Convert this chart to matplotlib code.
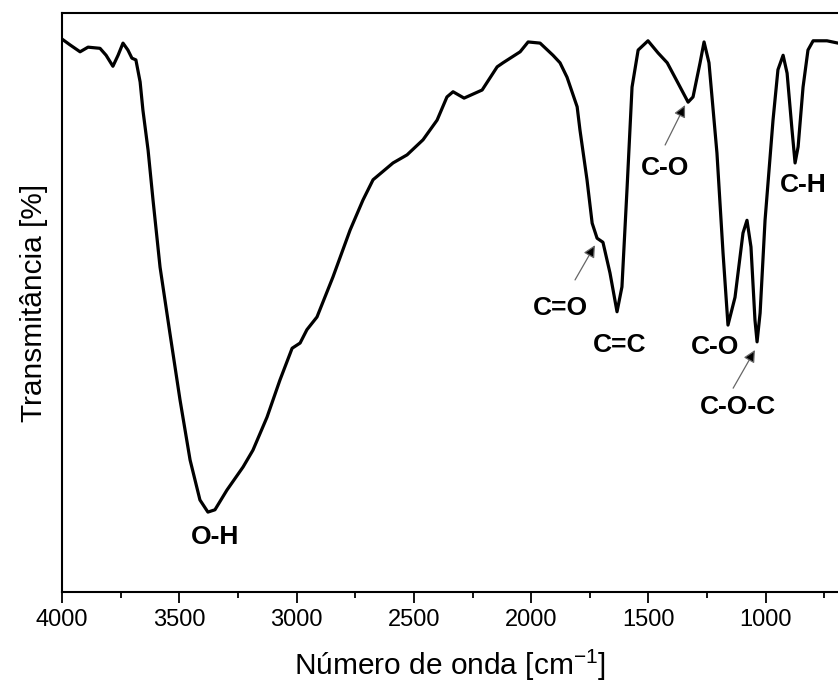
import numpy as np
import matplotlib
matplotlib.use('Agg')
import matplotlib.pyplot as plt

plt.rcParams['font.family'] = ['Liberation Sans', 'DejaVu Sans']
plt.rcParams['mathtext.fontset'] = 'custom'
plt.rcParams['mathtext.rm'] = 'Liberation Sans'

# FTIR spectrum (wavenumber in cm-1, transmittance in arbitrary %)
wavenumber = [4000, 3966, 3923, 3889, 3838, 3812, 3783, 3761, 3740, 3719, 3702, 3685,
              3667, 3655, 3633, 3612, 3582, 3540, 3497, 3454, 3412, 3378, 3348, 3297,
              3228, 3186, 3126, 3071, 3019, 2985, 2956, 2913, 2845, 2772, 2717, 2674,
              2589, 2529, 2461, 2401, 2359, 2333, 2286, 2209, 2145, 2120, 2047, 2013,
              1962, 1907, 1877, 1847, 1804, 1792, 1762, 1740, 1719, 1694, 1664, 1634,
              1613, 1591, 1570, 1544, 1502, 1459, 1420, 1374, 1331, 1310, 1280, 1263,
              1242, 1208, 1182, 1161, 1131, 1097, 1080, 1063, 1046, 1037, 1024, 1003,
              969, 948, 926, 909, 888, 875, 862, 841, 820, 798, 739, 692]
transmittance = [95.5, 94.5, 93.3, 94.1, 93.9, 92.7, 90.8, 92.7, 94.8, 93.6, 92.2, 91.9,
                 88.1, 83.2, 76.3, 67.7, 56.1, 44.7, 33.2, 22.8, 15.9, 13.8, 14.2, 17.6,
                 21.6, 24.5, 30.2, 36.6, 42.1, 43.0, 45.3, 47.5, 54.4, 62.5, 67.7, 71.2,
                 74.1, 75.5, 78.1, 81.5, 85.5, 86.4, 85.3, 86.7, 90.7, 91.4, 93.3, 95.0,
                 94.8, 92.7, 91.4, 88.9, 83.8, 79.8, 71.2, 63.7, 61.1, 60.4, 55.1, 48.4,
                 52.7, 69.9, 87.2, 93.6, 95.2, 93.1, 91.4, 87.9, 84.6, 85.5, 91.4, 95.0,
                 91.4, 75.8, 58.5, 46.1, 50.9, 62.0, 64.2, 59.6, 47.0, 43.2, 48.2, 64.2,
                 81.5, 90.2, 92.7, 89.6, 79.8, 74.1, 76.9, 87.2, 93.6, 95.2, 95.2, 94.8]

fig = plt.figure(figsize=(8.38, 6.86), dpi=100)
ax = fig.add_axes([62/838, 94/686, 776/838, 579/686])
ax.plot(wavenumber, transmittance, color='black', lw=2.3, solid_joinstyle='round')

ax.set_xlim(4000, 692)
ax.set_ylim(0, 100)
ax.set_xticks(np.arange(4000, 999, -500))
ax.set_xticks(np.arange(3750, 691, -250), minor=True)
ax.set_yticks([])
ax.tick_params(axis='x', which='major', direction='out', length=8, width=1.3,
               labelsize=17, pad=4)
ax.tick_params(axis='x', which='minor', direction='out', length=4, width=1.3)
for s in ['left', 'bottom', 'top']:
    ax.spines[s].set_linewidth(1.5)
ax.spines['right'].set_visible(False)

ax.set_xlabel('Número de onda [cm$^{\\mathregular{-1}}$]', fontsize=21.5, labelpad=12)
ax.set_ylabel('Transmitância [%]', fontsize=21.5, labelpad=10)

bold = dict(fontsize=19, fontweight='bold', ha='center', va='center')
arrow = dict(arrowstyle='-|>', ec='0.4', fc='black', lw=0.9, mutation_scale=18,
             shrinkA=0, shrinkB=0)
ax.text(3348, 9.5, 'O-H', **bold)
ax.text(1621, 42.7, 'C=C', **bold)
ax.text(1216, 42.3, 'C-O', **bold)
ax.text(841, 70.3, 'C-H', **bold)
ax.text(1877, 49.1, 'C=O', **bold)
ax.annotate('', xy=(1728, 59.9), xytext=(1813, 53.9), arrowprops=arrow)
ax.text(1429, 73.2, 'C-O', **bold)
ax.annotate('', xy=(1344, 84.1), xytext=(1429, 77.2), arrowprops=arrow)
ax.text(1118, 32.0, 'C-O-C', **bold)
ax.annotate('', xy=(1046, 41.8), xytext=(1139, 35.2), arrowprops=arrow)

fig.savefig('out.png', dpi=100)
